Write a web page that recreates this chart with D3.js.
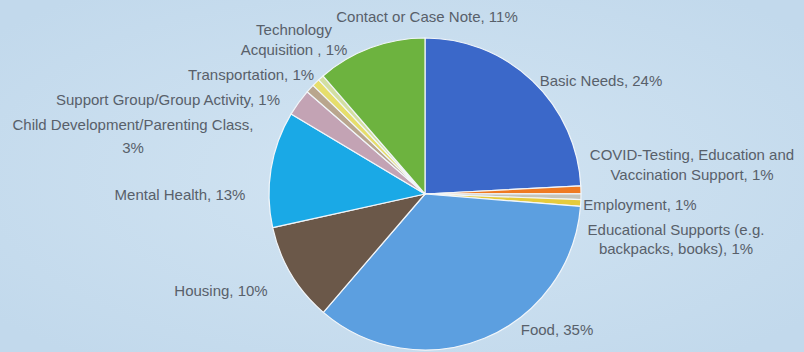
<!DOCTYPE html>
<html>
<head>
<meta charset="utf-8">
<script src="https://cdn.jsdelivr.net/npm/d3@7/dist/d3.min.js"></script>
<style>
  html, body { margin: 0; padding: 0; background: #c6dcee; }
  svg { display: block; }
  text { font-family: "Liberation Sans", Arial, sans-serif; }
</style>
</head>
<body>
<svg id="chart" width="804" height="352"></svg>
<script>
// ---- data ----
const categories = [
  "Basic Needs",
  "COVID-Testing, Education and Vaccination Support",
  "Employment",
  "Educational Supports (e.g. backpacks, books)",
  "Food",
  "Housing",
  "Mental Health",
  "Child Development/Parenting Class",
  "Support Group/Group Activity",
  "Transportation",
  "Technology Acquisition",
  "Contact or Case Note"
];
const values = [24.3, 0.8, 0.6, 0.7, 35.2, 10.3, 12.1, 2.8, 0.9, 0.8, 0.6, 11.4];
const labelLines = [
  ["Basic Needs, 24%"],
  ["COVID-Testing, Education and", "Vaccination Support, 1%"],
  ["Employment, 1%"],
  ["Educational Supports (e.g.", "backpacks, books), 1%"],
  ["Food, 35%"],
  ["Housing, 10%"],
  ["Mental Health, 13%"],
  ["Child Development/Parenting Class,", "3%"],
  ["Support Group/Group Activity, 1%"],
  ["Transportation, 1%"],
  ["Technology", "Acquisition , 1%"],
  ["Contact or Case Note, 11%"]
];

// ---- styling / layout (kept apart from the data) ----
const colors = ["#3b68c9", "#ef7a22", "#c4c4bc", "#e5cb3c", "#5c9fe0", "#6b5849",
                "#1aa9e6", "#c3a3b4", "#b9a68e", "#e6de6c", "#d3dfa2", "#6db33f"];
const labelPos = [
  [601, 81], [692, 155], [640, 205], [676, 230], [557, 330], [221, 291],
  [180, 195], [133, 125], [168, 100], [251, 75], [294, 30], [427, 17]
];
const lineGap = [0, 20, 0, 19, 0, 0, 0, 23, 0, 0, 20, 0];

const W = 804, H = 352;
const cx = 425, cy = 194, R = 156;

const svg = d3.select("#chart");

const defs = svg.append("defs");
const grad = defs.append("radialGradient").attr("id", "bg")
  .attr("cx", "50%").attr("cy", "50%").attr("r", "65%");
grad.append("stop").attr("offset", "0%").attr("stop-color", "#d2e4f2");
grad.append("stop").attr("offset", "100%").attr("stop-color", "#c2d9ec");
svg.append("rect").attr("width", W).attr("height", H).attr("fill", "url(#bg)");

const pie = d3.pie().sort(null).value(d => d);
const arcs = pie(values);
const arc = d3.arc().innerRadius(0).outerRadius(R);

const g = svg.append("g").attr("transform", `translate(${cx},${cy})`);
g.selectAll("path")
  .data(arcs)
  .join("path")
  .attr("d", arc)
  .attr("fill", (d, i) => colors[i])
  .attr("stroke", "#f2f6fa")
  .attr("stroke-width", 1.2)
  .attr("stroke-linejoin", "round");

// labels
const lg = svg.append("g");
labelLines.forEach((lines, i) => {
  const [x, y] = labelPos[i];
  const t = lg.append("text")
    .attr("x", x).attr("y", y)
    .attr("text-anchor", "middle")
    .attr("font-size", 15)
    .attr("fill", "#58606a");
  lines.forEach((ln, j) => {
    t.append("tspan")
      .attr("x", x)
      .attr("y", y + j * lineGap[i])
      .attr("dy", "0.35em")
      .text(ln);
  });
});
</script>
</body>
</html>
